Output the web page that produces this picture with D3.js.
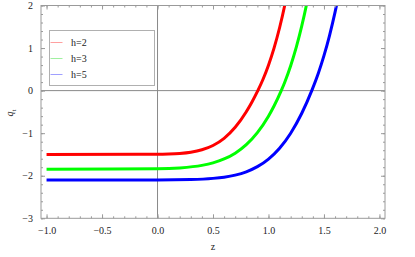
<!DOCTYPE html>
<html>
<head>
<meta charset="utf-8">
<script src="https://cdn.jsdelivr.net/npm/d3@7"></script>
<style>
html,body{margin:0;padding:0;background:#fff;}
svg{display:block;}
svg text{font-family:'Liberation Serif','Times New Roman',Times,'Noto Serif','DejaVu Serif',serif !important;}
</style>
</head>
<body>
<svg id="chart" width="415" height="257"></svg>
<script>
// ---- data ----
const seriesNames = ["h=2", "h=3", "h=5"];
const seriesColors = ["#ff0000", "#00ff00", "#0000ff"];
const legendColors = ["#ffa0a0", "#a0f0a0", "#a0a0ff"];

const zRed   = [-1.0, 0.0, 0.1, 0.2, 0.3, 0.4, 0.5, 0.6, 0.7, 0.8, 0.85, 0.904, 0.95, 1.0, 1.05, 1.1, 1.15, 1.2];
const qRed   = [-1.50, -1.496, -1.49, -1.476, -1.447, -1.39, -1.289, -1.121, -0.862, -0.495, -0.271, 0.0, 0.261, 0.598, 0.999, 1.477, 2.047, 2.725];

const zGreen = [-1.0, 0.0, 0.2, 0.4, 0.5, 0.6, 0.7, 0.8, 0.9, 1.0, 1.05, 1.115, 1.15, 1.2, 1.25, 1.3, 1.35, 1.4];
const qGreen = [-1.845, -1.836, -1.816, -1.757, -1.698, -1.606, -1.469, -1.269, -0.986, -0.60, -0.361, 0.0, 0.222, 0.586, 1.015, 1.519, 2.113, 2.81];

const zBlue  = [-1.0, 0.0, 0.3, 0.5, 0.6, 0.7, 0.8, 0.9, 1.0, 1.1, 1.2, 1.3, 1.39, 1.45, 1.5, 1.55, 1.6, 1.65];
const qBlue  = [-2.10, -2.099, -2.089, -2.062, -2.033, -1.985, -1.907, -1.787, -1.608, -1.353, -1.0, -0.532, 0.0, 0.414, 0.821, 1.294, 1.843, 2.481];

const xTickValues = [-1.0, -0.5, 0.0, 0.5, 1.0, 1.5, 2.0];
const xTickLabels = ["\u22121.0", "\u22120.5", "0.0", "0.5", "1.0", "1.5", "2.0"];
const yTickValues = [-3, -2, -1, 0, 1, 2];
const yTickLabels = ["\u22123", "\u22122", "\u22121", "0", "1", "2"];

// ---- layout ----
const svg = d3.select("#chart");
const L = 41, R = 385, T = 5.5, B = 218.3;
const x = d3.scaleLinear().domain([-1.05, 2.05]).range([L, R]);
const y = d3.scaleLinear().domain([-3, 2]).range([B, T]);
const frameColor = "#9a9a9a";
const serif = "'Liberation Serif','Times New Roman',Times,'Noto Serif','DejaVu Serif',serif";

svg.append("defs").append("clipPath").attr("id", "clip")
  .append("rect").attr("x", L).attr("y", T).attr("width", R - L).attr("height", B - T);

// axes lines through origin
svg.append("line").attr("x1", L).attr("x2", R).attr("y1", y(0)).attr("y2", y(0))
  .attr("stroke", "#8a8a8a").attr("stroke-width", 1);
svg.append("line").attr("x1", x(0)).attr("x2", x(0)).attr("y1", T).attr("y2", B)
  .attr("stroke", "#8a8a8a").attr("stroke-width", 1);

// curves
const series = [
  {z: zRed, q: qRed},
  {z: zGreen, q: qGreen},
  {z: zBlue, q: qBlue}
];
const line = d3.line().x(d => x(d[0])).y(d => y(d[1])).curve(d3.curveMonotoneX);
const curves = svg.append("g").attr("clip-path", "url(#clip)");
series.forEach((s, i) => {
  const pts = s.z.map((z, j) => [z, s.q[j]]);
  curves.append("path").attr("d", line(pts)).attr("fill", "none")
    .attr("stroke", seriesColors[i]).attr("stroke-width", 3).attr("stroke-linecap", "butt");
});

// frame
svg.append("rect").attr("x", L).attr("y", T).attr("width", R - L).attr("height", B - T)
  .attr("fill", "none").attr("stroke", frameColor).attr("stroke-width", 1);

// ticks via d3 axes (inward)
const xMinor = d3.range(-10, 21).map(v => v / 10);
const yMinor = d3.range(-15, 11).map(v => v / 5);

function styleAxis(g) {
  g.attr("font-family", serif);
  g.select(".domain").remove();
  g.selectAll(".tick line").attr("stroke", frameColor);
  g.selectAll("text").attr("fill", "#222").attr("font-size", 10).attr("font-family", serif);
}

// bottom minor + major
svg.append("g").attr("transform", `translate(0,${B})`)
  .call(d3.axisTop(x).tickValues(xMinor).tickSize(2).tickFormat(""))
  .call(styleAxis);
svg.append("g").attr("transform", `translate(0,${B})`)
  .call(d3.axisBottom(x).tickValues(xTickValues).tickSizeInner(-4).tickSizeOuter(0).tickPadding(9)
    .tickFormat((d, i) => xTickLabels[i]))
  .call(styleAxis);
// top
svg.append("g").attr("transform", `translate(0,${T})`)
  .call(d3.axisBottom(x).tickValues(xMinor).tickSize(2).tickFormat(""))
  .call(styleAxis);
svg.append("g").attr("transform", `translate(0,${T})`)
  .call(d3.axisBottom(x).tickValues(xTickValues).tickSize(4).tickFormat(""))
  .call(styleAxis);
// left
svg.append("g").attr("transform", `translate(${L},0)`)
  .call(d3.axisRight(y).tickValues(yMinor).tickSize(2).tickFormat(""))
  .call(styleAxis);
svg.append("g").attr("transform", `translate(${L},0)`)
  .call(d3.axisLeft(y).tickValues(yTickValues).tickSizeInner(-4).tickSizeOuter(0).tickPadding(8)
    .tickFormat((d, i) => yTickLabels[i]))
  .call(styleAxis);
// right
svg.append("g").attr("transform", `translate(${R},0)`)
  .call(d3.axisLeft(y).tickValues(yMinor).tickSize(2).tickFormat(""))
  .call(styleAxis);
svg.append("g").attr("transform", `translate(${R},0)`)
  .call(d3.axisLeft(y).tickValues(yTickValues).tickSize(4).tickFormat(""))
  .call(styleAxis);

// axis labels
svg.append("text").attr("x", (L + R) / 2).attr("y", 250).attr("text-anchor", "middle")
  .attr("font-family", serif).attr("font-size", 10).attr("fill", "#222").text("z");
const yl = svg.append("text").attr("transform", "translate(13,113) rotate(-90)")
  .attr("text-anchor", "middle").attr("font-family", serif).attr("font-size", 10).attr("fill", "#222");
yl.append("tspan").attr("font-style", "italic").text("q");
yl.append("tspan").attr("dy", 2.5).attr("font-size", 7).text("t");

// legend
const lg = svg.append("g");
lg.append("rect").attr("x", 49.5).attr("y", 30.5).attr("width", 105).attr("height", 55)
  .attr("fill", "#fff").attr("stroke", "#b0b0b0").attr("stroke-width", 1);
seriesNames.forEach((n, i) => {
  const yy = 42.5 + i * 16;
  lg.append("line").attr("x1", 50.5).attr("x2", 62.5).attr("y1", yy).attr("y2", yy)
    .attr("stroke", legendColors[i]).attr("stroke-width", 1);
  lg.append("text").attr("x", 71).attr("y", yy + 3.5).attr("font-family", serif).attr("font-size", 10)
    .attr("fill", "#222").text(n);
});
</script>
</body>
</html>
